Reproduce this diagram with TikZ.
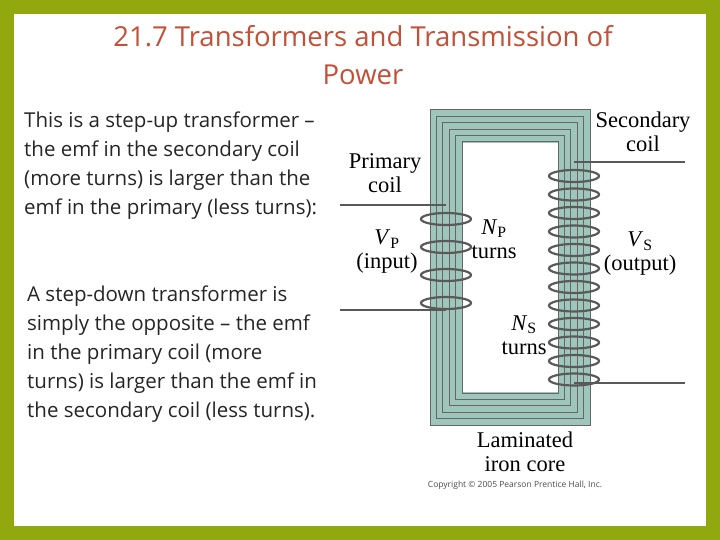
\documentclass[tikz,border=0pt]{standalone}
\usepackage{fontspec}
\setmainfont{Open Sans}
\newfontfamily\serf{Liberation Serif}
\begin{document}
\begin{tikzpicture}[x=1pt,y=-1pt,
  wire/.style={draw=black!65,line width=2.2pt},
  lam/.style={draw=black!60,line width=1pt},
  lbl/.style={font=\serf\fontsize{22.5}{24}\selectfont,align=center,inner sep=0pt},
  body/.style={font=\fontsize{20.5}{29}\selectfont,align=left,anchor=north west,inner sep=0pt,text=black!85}]
\useasboundingbox (0,0) rectangle (720,540);
\fill[olive!70!green!80!yellow] (0,0) rectangle (720,540);
\fill[white] (14,14) rectangle (706,526);
\node[font=\fontsize{27.5}{38}\selectfont,text={rgb,255:red,195;green,80;blue,55},align=center] (title) at (363,55) {21.7 Transformers and Transmission of\\Power};
\node[body] (t1) at (24,112) {This is a step-up transformer --\\the emf in the secondary coil\\(more turns) is larger than the\\emf in the primary (less turns):};
\node[body] (t2) at (27,286) {A step-down transformer is\\simply the opposite -- the emf\\in the primary coil (more\\turns) is larger than the emf in\\the secondary coil (less turns).};
% core
\fill[green!30!cyan!25!gray!60, even odd rule] (430,110) rectangle (590,425) (462,143) rectangle (558,392);
\foreach \d in {0,6.4,12.8,19.2,25.6,32}
  \draw[lam] (430+\d,110+\d) rectangle (590-\d,425-\d);
% primary
\draw[wire] (340,205) -- (446,205);
\draw[wire] (340,310) -- (446,310);
\foreach \y in {219,247,275,303}
  \draw[wire] (446,\y) ellipse [x radius=25,y radius=6];
% secondary
\draw[wire] (574,162) -- (685,162);
\draw[wire] (574,383) -- (685,383);
\foreach \i in {0,...,11}
  \draw[wire] (574,{176+\i*18.5}) ellipse [x radius=25,y radius=6];
\node[lbl] (sec) at (643,132) {Secondary\\coil};
\node[lbl] (pri) at (385,173) {Primary\\coil};
\node[lbl] (vp) at (387,252) {\textit{V}\textsubscript{P}\\(input)};
\node[lbl] (np) at (494,239) {\textit{N}\textsubscript{P}\\turns};
\node[lbl] (vs) at (640,254) {\textit{V}\textsubscript{S}\\(output)};
\node[lbl] (ns) at (524,335) {\textit{N}\textsubscript{S}\\turns};
\node[lbl] (core) at (525,452) {Laminated\\iron core};
\node[font=\fontsize{8.5}{9}\selectfont,text=black!70] (copy) at (515,485) {Copyright © 2005 Pearson Prentice Hall, Inc.};
\end{tikzpicture}
\end{document}
